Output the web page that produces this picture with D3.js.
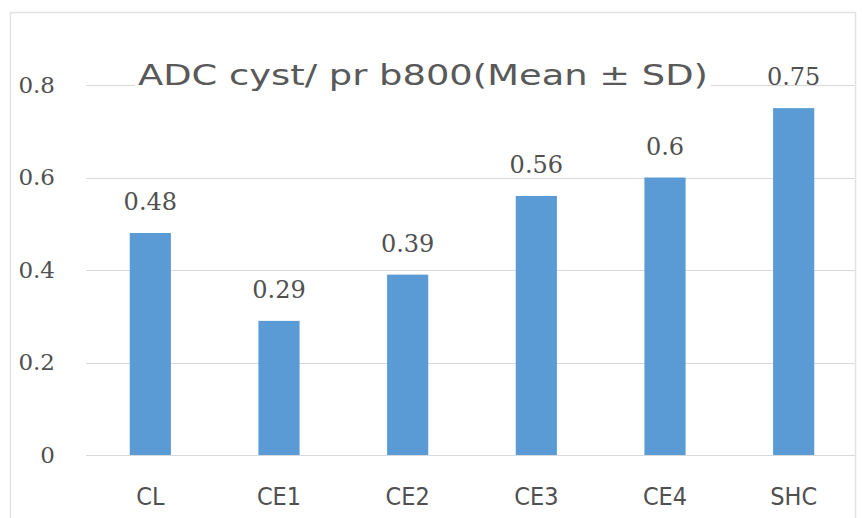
<!DOCTYPE html>
<html>
<head>
<meta charset="utf-8">
<script src="https://cdn.jsdelivr.net/npm/d3@7"></script>
<style>
html,body{margin:0;padding:0;background:#fff;}
svg{display:block;}
</style>
</head>
<body>
<svg id="chart" width="862" height="518"></svg>
<script>
const categories = ["CL", "CE1", "CE2", "CE3", "CE4", "SHC"];
const values = [0.48, 0.29, 0.39, 0.56, 0.6, 0.75];
const valueLabels = ["0.48", "0.29", "0.39", "0.56", "0.6", "0.75"];
const yTicks = [0, 0.2, 0.4, 0.6, 0.8];
const yTickLabels = ["0", "0.2", "0.4", "0.6", "0.8"];
const title = "ADC cyst/ pr b800(Mean \u00B1 SD)";

const svg = d3.select("#chart");
const W = 862, H = 518;
svg.append("rect").attr("width", W).attr("height", H).attr("fill", "#fff");
// chart area border
svg.append("rect").attr("x", 10.5).attr("y", 12.5).attr("width", 845).attr("height", 530)
  .attr("fill", "none").attr("stroke", "#e3e3e3").attr("stroke-width", 1.5);

const x = d3.scaleBand().domain(categories).range([86, 858]).paddingInner(0.68).paddingOuter(0.34);
const y = d3.scaleLinear().domain([0, 0.8]).range([455, 85]);

// gridlines
svg.append("g").selectAll("line").data(yTicks).join("line")
  .attr("x1", 86).attr("x2", 855)
  .attr("y1", d => Math.round(y(d)) + 0.5).attr("y2", d => Math.round(y(d)) + 0.5)
  .attr("stroke", "#d9d9d9").attr("stroke-width", 1.2);

// y tick labels
const yAxis = d3.axisLeft(y).tickValues(yTicks).tickFormat((d, i) => yTickLabels[i]).tickSize(0).tickPadding(0);
const gy = svg.append("g").attr("transform", "translate(55,0)").call(yAxis);
gy.select(".domain").remove();
gy.selectAll("text").attr("fill", "#505050")
  .style("font-family", "'DejaVu Serif', serif").style("font-size", "23px");

// bars
svg.append("g").selectAll("rect").data(categories).join("rect")
  .attr("x", d => x(d)).attr("width", x.bandwidth())
  .attr("y", (d, i) => y(values[i])).attr("height", (d, i) => y(0) - y(values[i]))
  .attr("fill", "#5b9bd5");

// value labels
svg.append("g").selectAll("text").data(categories).join("text")
  .attr("x", d => x(d) + x.bandwidth() / 2)
  .attr("y", (d, i) => y(values[i]) - 23)
  .attr("text-anchor", "middle").attr("fill", "#505050")
  .style("font-family", "'DejaVu Serif', serif").style("font-size", "24px")
  .text((d, i) => valueLabels[i]);

// x labels
const xAxis = d3.axisBottom(x).tickSize(0).tickPadding(0);
const gx = svg.append("g").attr("transform", "translate(0,487)").call(xAxis);
gx.select(".domain").remove();
gx.selectAll("text").attr("fill", "#505050").attr("dy", "0.71em")
  .style("font-family", "'DejaVu Sans Condensed', 'DejaVu Sans', sans-serif").style("font-size", "25px");

// title with white background box
const tg = svg.append("g");
const bg = tg.append("rect").attr("fill", "#fff");
const tt = tg.append("text").attr("x", 423).attr("y", 85).attr("text-anchor", "middle")
  .attr("fill", "#595959").style("font-family", "'DejaVu Sans', sans-serif").style("font-size", "28px")
  .attr("textLength", 570).attr("lengthAdjust", "spacingAndGlyphs")
  .text(title);
const bb = tt.node().getBBox();
bg.attr("x", bb.x - 3).attr("y", bb.y).attr("width", bb.width + 6).attr("height", bb.height);
</script>
</body>
</html>
